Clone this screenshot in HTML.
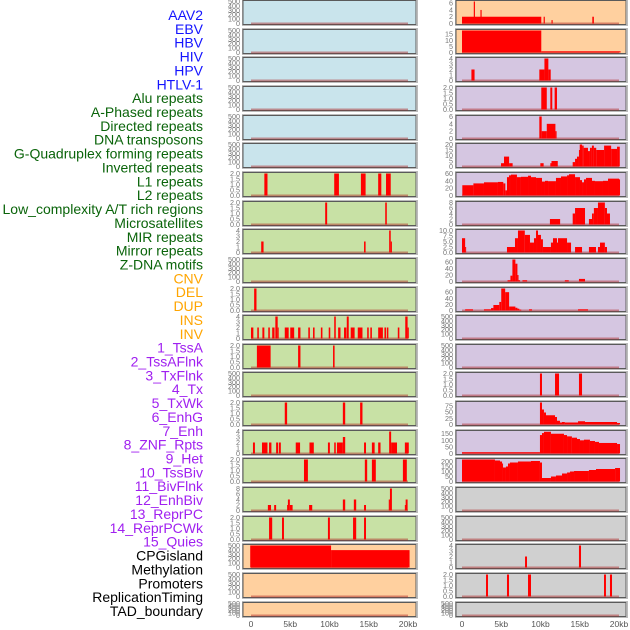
<!DOCTYPE html>
<html><head><meta charset="utf-8">
<style>
html,body{margin:0;padding:0;background:#fff;}
svg{display:block;font-family:"Liberation Sans",sans-serif;}
</style></head>
<body>
<svg id="chart" width="630" height="630" viewBox="0 0 630 630"></svg>
<script>
const trackLabels = ["AAV2","EBV","HBV","HIV","HPV","HTLV-1","Alu repeats","A-Phased repeats","Directed repeats","DNA transposons","G-Quadruplex forming repeats","Inverted repeats","L1 repeats","L2 repeats","Low_complexity A/T rich regions","Microsatellites","MIR repeats","Mirror repeats","Z-DNA motifs","CNV","DEL","DUP","INS","INV","1_TssA","2_TssAFlnk","3_TxFlnk","4_Tx","5_TxWk","6_EnhG","7_Enh","8_ZNF_Rpts","9_Het","10_TssBiv","11_BivFlnk","12_EnhBiv","13_ReprPC","14_ReprPCWk","15_Quies","CPGisland","Methylation","Promoters","ReplicationTiming","TAD_boundary"];
const labelGroups = ["virus","virus","virus","virus","virus","virus","repeat","repeat","repeat","repeat","repeat","repeat","repeat","repeat","repeat","repeat","repeat","repeat","repeat","sv","sv","sv","sv","sv","chrom","chrom","chrom","chrom","chrom","chrom","chrom","chrom","chrom","chrom","chrom","chrom","chrom","chrom","chrom","other","other","other","other","other"];
const xTickLabels = ["0","5kb","10kb","15kb","20kb"];
const xTickValues = [0,5,10,15,20];
const E = [0,100,200,300,400,500];
const leftYmax = [500,500,500,500,500,500,2,2,4,500,2,4,2,500,2,4,2,8,2,500,500,500];
const leftTicks = [E,E,E,E,E,E,[0,0.5,1,1.5,2],[0,0.5,1,1.5,2],[0,1,2,3,4],E,[0,0.5,1,1.5,2],[0,1,2,3,4],[0,0.5,1,1.5,2],E,[0,0.5,1,1.5,2],[0,1,2,3,4],[0,0.5,1,1.5,2],[0,2,4,6,8],[0,0.5,1,1.5,2],E,E,E];
const leftSegs = [[],[],[],[],[],[],
 [[1.7,2.1,2],[10.6,11.2,2],[14.0,14.6,2],[16.2,16.6,2],[17.2,17.8,2]],
 [[9.45,9.7,2],[17.1,17.3,2]],
 [[1.3,1.6,2],[14.4,14.6,2],[17.6,17.8,4],[17.8,17.95,2]],
 [],
 [[0.4,0.7,2]],
 [[0.0,0.3,2],[0.8,1.0,2],[1.45,1.7,2],[2.2,2.4,2],[2.7,3.0,2],[3.1,3.4,4],[3.4,3.5,2],[4.3,4.8,2],[5.0,5.5,2],[6.0,6.3,2],[7.3,7.5,2],[7.9,8.1,2],[8.9,9.1,2],[9.9,10.1,2],[10.6,10.8,4],[11.1,11.4,2],[11.85,12.15,2],[12.2,12.45,4],[12.7,13.2,2],[13.6,14.2,2],[14.8,15.0,2],[15.2,15.4,2],[16.2,16.8,2],[17.0,17.2,2],[17.3,17.5,2],[18.7,18.9,2],[19.65,19.95,4],[19.95,20.1,2]],
 [[0.75,2.5,2],[6.0,6.3,2],[10.45,10.65,2]],
 [],
 [[4.3,4.6,2],[11.7,12.0,2],[13.9,14.2,2]],
 [[0.25,0.5,2],[1.4,2.1,2],[2.3,2.6,2],[3.2,3.45,2],[3.55,3.8,2],[5.7,6.25,2],[7.45,8.0,2],[9.8,10.05,2],[10.6,10.8,2],[10.95,11.7,2],[11.7,12.0,3],[14.4,14.65,2],[15.4,15.75,2],[16.2,16.5,2],[17.6,17.85,4],[17.85,18.6,2],[19.6,20.1,2]],
 [[6.75,7.25,2],[14.5,14.8,2],[15.4,15.9,2],[19.35,19.85,2]],
 [[2.15,2.55,2],[2.95,3.2,2],[4.6,4.7,2],[4.7,4.95,4],[4.95,5.3,2],[7.4,7.8,2],[11.7,12.0,4],[13.1,13.4,4],[14.4,14.65,2],[17.55,17.7,4],[17.7,17.95,8],[19.6,19.7,2],[19.7,19.95,4]],
 [[2.3,2.7,2],[3.95,4.2,2],[9.8,10.05,2],[13.0,13.4,2],[14.4,14.65,2]],
 [[-0.1,10.2,500],[10.2,20.2,395]],
 [],[]];
const rightYmax = [6.5,18,4,2,6,20,60,8,10,68,72,500,500,2,88,167,220,500,500,4,2,500];
const rightTicks = [[0,2,4,6],[0,5,10,15],[0,1,2,3,4],[0,0.5,1,1.5,2],[0,2,4,6],[0,5,10,15,20],[0,20,40,60],[0,2,4,6,8],[0,2.5,5,7.5,10],[0,20,40,60],[0,20,40,60],E,E,[0,0.5,1,1.5,2],[0,25,50,75],[0,50,100,150],[0,50,100,150,200],E,E,[0,1,2,3,4],[0,0.5,1,1.5,2],E];
const rightSegs = [
 [[0,10.1,2],[1.5,1.65,6.5],[2.35,2.5,4],[10.4,10.55,2],[11.4,11.55,1],[16.6,16.8,2]],
 [[0,10.1,18],[10.1,20.2,1]],
 [[1.2,1.6,2],[9.85,10.5,2],[10.5,11.0,4],[11.0,11.3,2]],
 [[10.1,10.8,2],[11.25,11.5,2],[11.8,12.1,2]],
 [[9.85,10.15,6],[10.15,10.8,2],[10.8,11.9,4],[11.9,12.05,2]],
 [[4.97,5.35,3],[5.35,6.0,9],[6.0,6.45,3],[9.98,10.4,3],[11.25,11.4,3],[11.4,12.2,5],[14.1,14.4,4],[14.4,14.65,7],[14.65,14.9,9],[14.9,15.0,15],[15.0,15.3,20],[15.3,15.5,19],[15.5,16.05,17],[16.05,16.3,14],[16.3,16.55,17],[16.55,16.8,19],[16.8,17.1,17],[17.1,18.1,15],[18.1,19.0,19],[19.0,19.75,16],[19.75,20.1,18]],
 [[0.04,1.45,28],[1.45,2.8,33],[2.8,4.58,36],[4.58,5.26,37],[5.26,5.52,33],[5.52,5.73,14],[5.73,5.99,50],[5.99,6.24,55],[6.24,7.0,57],[7.0,7.51,50],[7.51,8.41,51],[8.41,8.79,54],[8.79,9.43,50],[9.43,10.19,48],[10.19,10.57,38],[10.57,10.96,40],[10.96,11.97,39],[11.97,12.61,48],[12.61,13.38,52],[13.38,13.63,55],[13.63,14.4,58],[14.4,15.03,50],[15.03,15.29,42],[15.29,15.54,36],[15.54,15.8,44],[15.8,16.56,48],[16.56,16.94,40],[16.94,17.96,39],[17.96,18.6,40],[18.6,20.0,46],[20.0,20.13,44]],
 [[11.2,12.5,2],[14.1,14.4,4],[14.4,15.67,6],[16.17,16.56,2],[16.56,16.8,4],[16.8,17.32,6],[17.32,18.2,8],[18.2,18.47,6],[18.47,18.85,4]],
 [[0,0.4,6.5],[0.4,0.5,2.5],[5.73,6.75,2.5],[6.75,7.13,6.5],[7.13,8.0,10],[8.0,8.66,8],[8.66,9.17,4.5],[9.17,9.43,6.5],[9.43,9.68,10],[9.68,10.06,8],[10.06,10.31,6],[10.31,11.33,2.5],[11.33,11.59,4.5],[11.59,12.1,6.5],[12.1,12.23,4.5],[12.23,13.38,6.5],[13.38,13.89,4.5],[14.4,15.29,2.5],[16.17,17.07,2.5],[17.32,17.58,2.5],[17.58,18.2,4.5],[18.2,18.47,2.5]],
 [[5.8,6.17,4],[6.17,6.42,18],[6.42,6.8,68],[6.8,7.06,55],[7.06,7.2,20],[7.2,7.4,4],[7.7,8.3,4],[13.1,13.6,4],[14.9,15.67,8]],
 [[0.4,1.4,4],[2.8,3.7,4],[3.7,4.0,8],[4.0,4.75,18],[4.75,5.0,28],[5.0,5.5,72],[5.5,6.0,60],[6.0,6.8,13],[6.8,7.06,9],[7.06,7.3,6],[7.3,7.55,3],[8.54,8.92,4],[14.78,16.05,4]],
 [],[],
 [[9.93,10.19,2],[11.85,12.36,2],[14.9,15.29,2]],
 [[9.93,10.19,88],[10.19,10.44,60],[10.44,10.7,48],[10.7,11.85,37],[11.85,12.1,30],[12.1,12.48,15],[12.48,12.74,8],[12.74,13.1,10],[13.1,14.78,8],[14.78,15.67,13],[15.67,19.75,10],[19.75,20.13,6]],
 [[0,9.93,10],[9.93,10.19,140],[10.19,10.44,155],[10.44,11.33,165],[11.33,12.99,150],[12.99,13.38,140],[13.38,14.0,130],[14.0,14.65,120],[14.65,15.03,110],[15.03,15.54,100],[15.54,16.3,105],[16.3,16.94,95],[16.94,17.45,88],[17.45,19.75,80],[19.75,20.13,72]],
 [[0,4.2,220],[4.2,4.84,210],[4.84,5.1,200],[5.1,5.22,180],[5.22,5.6,140],[5.6,5.86,150],[5.86,6.11,180],[6.11,7.13,190],[7.13,8.79,200],[8.79,9.93,205],[9.93,10.19,190],[10.19,11.33,35],[11.33,11.97,50],[11.97,12.74,60],[12.74,13.38,80],[13.38,13.76,90],[13.76,14.27,100],[14.27,16.17,105],[16.17,17.07,115],[17.07,19.5,125],[19.5,20.13,135]],
 [],[],
 [[8.03,8.28,2],[14.9,15.16,4]],
 [[3.06,3.31,2],[5.73,5.99,2],[8.41,8.79,2],[18.09,18.34,2],[18.85,19.11,2]],
 []];
const leftFill = ["#c9e4ec","#c9e4ec","#c9e4ec","#c9e4ec","#c9e4ec","#c9e4ec","#c8e1a5","#c8e1a5","#c8e1a5","#c8e1a5","#c8e1a5","#c8e1a5","#c8e1a5","#c8e1a5","#c8e1a5","#c8e1a5","#c8e1a5","#c8e1a5","#c8e1a5","#ffd09f","#ffd09f","#ffd09f"];
const rightFill = ["#ffd09f","#ffd09f","#d5c6e1","#d5c6e1","#d5c6e1","#d5c6e1","#d5c6e1","#d5c6e1","#d5c6e1","#d5c6e1","#d5c6e1","#d5c6e1","#d5c6e1","#d5c6e1","#d5c6e1","#d5c6e1","#d5c6e1","#d0d0d0","#d0d0d0","#d0d0d0","#d0d0d0","#d0d0d0"];

const NS = "http://www.w3.org/2000/svg";
const svg = document.getElementById("chart");
const groupColor = {virus:"#1414ff",repeat:"#0a640a",sv:"#ffa500",chrom:"#a020f0",other:"#000"};
function mk(tag, attrs, parent){const e=document.createElementNS(NS,tag);for(const k in attrs)e.setAttribute(k,attrs[k]);(parent||svg).appendChild(e);return e;}

trackLabels.forEach((t,i)=>{
  const el = mk("text",{x:203,y:15+i*13.86+5,"text-anchor":"end","font-size":"14",fill:groupColor[labelGroups[i]]});
  
  
  el.textContent = t;
});

const panelTops = [];
for(let i=0;i<22;i++) panelTops.push(Math.round(i*28.65));
function fmt(v,ticks){const dec = ticks.some(t=>t%1!==0); return dec ? v.toFixed(1) : String(v);}

function drawCol(x0,x1,dataX0,ymaxArr,ticksArr,segsArr,fills,colName){
  const xs = kb => dataX0 + kb*7.85;
  for(let i=0;i<22;i++){
    const top = panelTops[i];
    const h = i===21 ? 14 : 24;
    const g = mk("g",{});
    
    
    mk("rect",{x:x0-0.5,y:top-0.5,width:x1-x0+2,height:h+2,fill:"none",stroke:"#bbb","stroke-width":1},g);
    mk("rect",{x:x0,y:top+0.5,width:x1-x0,height:h,fill:fills[i],stroke:"#5a5a5a","stroke-width":1},g);
    const ymax = ymaxArr[i];
    const ys = v => top+h-0.5 - (v/ymax)*(h-2);
    ticksArr[i].forEach(t=>{
      const tl = mk("text",{x:x0-3,y:ys(t)+2.5,"text-anchor":"end","font-size":"7.2",fill:"#777"},g);
      
      
      tl.textContent = fmt(t,ticksArr[i]);
    });
    mk("line",{x1:xs(0),x2:xs(20),y1:ys(0),y2:ys(0),stroke:"rgba(170,30,30,0.45)","stroke-width":2},g);
    segsArr[i].forEach(s=>{
      const v = Math.min(s[2],ymax);
      const b = mk("rect",{x:xs(s[0]),y:ys(v),width:Math.max(1,xs(s[1])-xs(s[0])),height:ys(0)-ys(v),fill:"#ff0000"},g);
      
      
    });
  }
  xTickValues.forEach((v,k)=>{
    const t = mk("text",{x:xs(v),y:627,"text-anchor":"middle","font-size":"8.5",fill:"#555"});
    
    
    t.textContent = xTickLabels[k];
  });
}
drawCol(243,416,251,leftYmax,leftTicks,leftSegs,leftFill,"left");
drawCol(456,626,462,rightYmax,rightTicks,rightSegs,rightFill,"right");
</script>
</body></html>
